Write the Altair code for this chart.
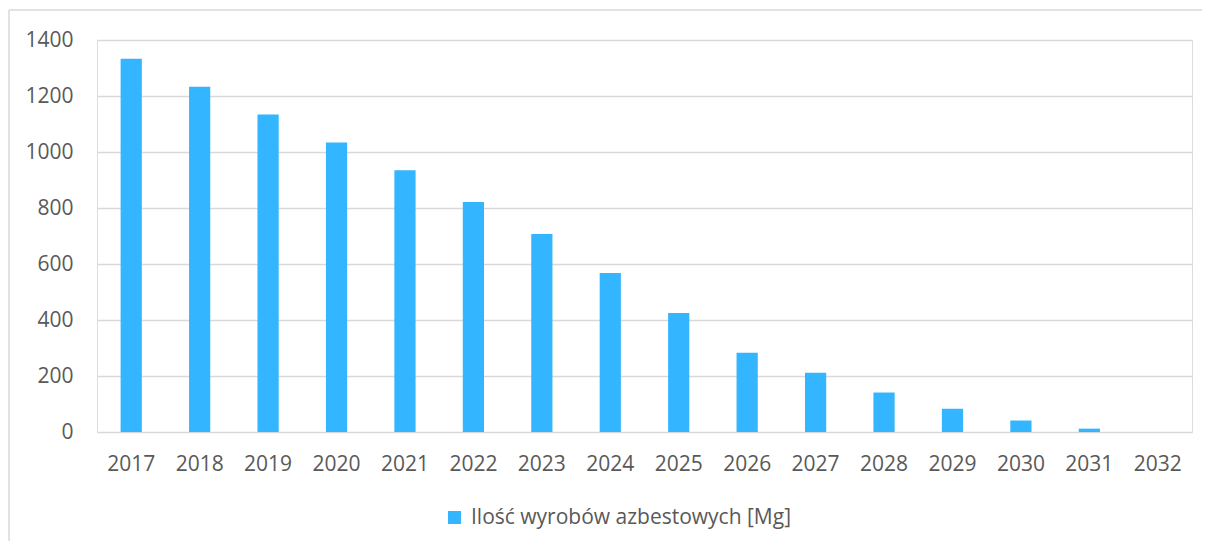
import altair as alt
import pandas as pd

years = [str(y) for y in range(2017, 2033)]
values = [1333, 1233, 1134, 1034, 935, 821, 707, 568, 425, 283, 212, 141, 83, 41, 12, 0]
series_name = "Ilość wyrobów azbestowych [Mg]"
y_ticks = [0, 200, 400, 600, 800, 1000, 1200, 1400]

df = pd.DataFrame({"year": years, "value": values, "series": [series_name] * len(years)})

FONT = "Open Sans"
TXT = "#595959"
FS = 21

bars = alt.Chart(df).mark_bar(color="#33b5ff").encode(
    x=alt.X("year:N", sort=years, title=None,
            scale=alt.Scale(paddingInner=0.69, paddingOuter=0.345),
            axis=alt.Axis(labelAngle=0, labelFont=FONT, labelFontSize=FS, labelColor=TXT,
                          labelPadding=21, ticks=False, domain=False, grid=False)),
    y=alt.Y("value:Q", title=None,
            scale=alt.Scale(domain=[0, 1400], nice=False),
            axis=alt.Axis(values=y_ticks, format="d", labelFont=FONT, labelFontSize=FS,
                          labelColor=TXT, labelPadding=24, ticks=False, domain=False,
                          grid=True, gridColor="#d9d9d9", gridWidth=1.5)),
    color=alt.Color("series:N", scale=alt.Scale(range=["#33b5ff"]),
                    legend=alt.Legend(title=None, orient="none", legendX=347, legendY=467,
                                      symbolType="square", symbolSize=169, symbolStrokeWidth=0,
                                      labelFont=FONT, labelFontSize=FS, labelColor=TXT,
                                      labelLimit=0, labelOffset=6, padding=0)),
)

frame_data = alt.Data(values=[{"a": 1}])
top_line = alt.Chart(frame_data).mark_rule(color="#d9d9d9", strokeWidth=1.5, clip=False).encode(
    x=alt.value(-88), x2=alt.value(1105), y=alt.value(-30)
)
left_line = alt.Chart(frame_data).mark_rule(color="#d9d9d9", strokeWidth=1.5, clip=False).encode(
    x=alt.value(-88), y=alt.value(-30), y2=alt.value(501)
)

chart = alt.layer(top_line, left_line, bars).properties(
    width=1095, height=392,
    autosize=alt.AutoSizeParams(type="none"),
    padding={"left": 89, "top": 32, "right": 10, "bottom": 109},
).configure_view(stroke=None).configure(background="white")

chart.save("out.html", embed_options={"renderer": "svg", "actions": False})
